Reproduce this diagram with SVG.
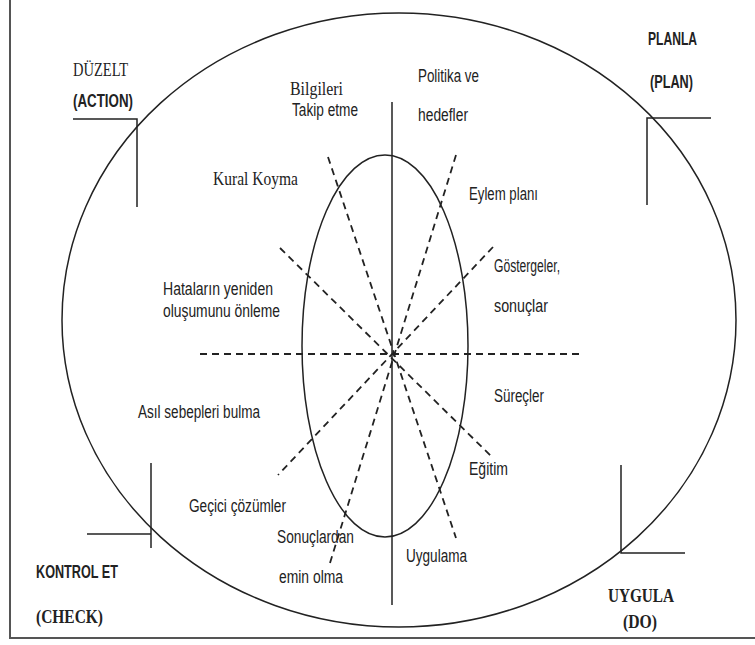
<svg xmlns="http://www.w3.org/2000/svg" width="755" height="645" viewBox="0 0 755 645">
  <style>
    .frame { stroke: #555; stroke-width: 2; fill: none; }
    .solid { stroke: #222; stroke-width: 1.5; fill: none; }
    .dash { stroke: #222; stroke-width: 1.8; stroke-dasharray: 7 5; fill: none; }
    .sans { font-family: "Liberation Sans", Arial, sans-serif; font-size: 17.5px; fill: #222; }
    .sansb { font-family: "Liberation Sans", Arial, sans-serif; font-size: 17.5px; font-weight: bold; fill: #222; }
    .serif { font-family: "Liberation Serif", "Times New Roman", serif; font-size: 19px; fill: #222; }
    .serifb { font-family: "Liberation Serif", "Times New Roman", serif; font-size: 19px; font-weight: bold; fill: #222; }
  </style>
  <rect width="755" height="645" fill="#fff"/>

  <!-- page frame (left and bottom edges) -->
  <g id="frame">
    <line class="frame" x1="10" y1="0" x2="10" y2="638"/>
    <line class="frame" x1="9" y1="638" x2="755" y2="638"/>
  </g>

  <!-- outer cycle and inner core -->
  <g id="outer-cycle">
    <ellipse class="solid" cx="399" cy="320" rx="337" ry="307"/>
  </g>
  <g id="inner-core">
    <ellipse class="solid" cx="385" cy="346" rx="83" ry="191"/>
  </g>

  <!-- axis and dashed spokes -->
  <g id="connectors">
    <line class="solid" x1="392" y1="102" x2="392" y2="605"/>
    <line class="dash" x1="200" y1="354" x2="583" y2="354"/>
    <line class="dash" x1="328" y1="157" x2="456" y2="538"/>
    <line class="dash" x1="456" y1="155" x2="330" y2="563"/>
    <line class="dash" x1="493" y1="247" x2="278" y2="475"/>
    <line class="dash" x1="280" y1="248" x2="493" y2="458"/>
  </g>

  <!-- quadrant corner brackets -->
  <g id="action">
    <polyline class="solid" points="73,119 137,119 137,207"/>
    <text class="serif" x="73" y="76" textLength="55" lengthAdjust="spacingAndGlyphs">DÜZELT</text>
    <text class="sansb" x="73" y="107" textLength="60" lengthAdjust="spacingAndGlyphs">(ACTION)</text>
  </g>
  <g id="plan">
    <polyline class="solid" points="711,118 647,118 647,205"/>
    <text class="sansb" x="648" y="45" textLength="49" lengthAdjust="spacingAndGlyphs">PLANLA</text>
    <text class="sansb" x="650" y="88" textLength="43" lengthAdjust="spacingAndGlyphs">(PLAN)</text>
  </g>
  <g id="check">
    <line class="solid" x1="151" y1="463" x2="151" y2="548"/>
    <line class="solid" x1="87" y1="534" x2="151" y2="534"/>
    <text class="sansb" x="36" y="578" textLength="82" lengthAdjust="spacingAndGlyphs">KONTROL ET</text>
    <text class="serifb" x="36" y="623" textLength="67" lengthAdjust="spacingAndGlyphs">(CHECK)</text>
  </g>
  <g id="do">
    <polyline class="solid" points="621,465 621,553 685,553"/>
    <text class="serifb" x="608" y="602" textLength="66" lengthAdjust="spacingAndGlyphs">UYGULA</text>
    <text class="serifb" x="623" y="628" textLength="34" lengthAdjust="spacingAndGlyphs">(DO)</text>
  </g>

  <!-- spoke labels -->
  <g id="bilgileri">
    <text class="serif" x="290" y="95" textLength="53" lengthAdjust="spacingAndGlyphs">Bilgileri</text>
    <text class="sans" x="292" y="116" textLength="66" lengthAdjust="spacingAndGlyphs">Takip etme</text>
  </g>
  <g id="politika">
    <text class="sans" x="418" y="82" textLength="61" lengthAdjust="spacingAndGlyphs">Politika ve</text>
    <text class="sans" x="418" y="121" textLength="50" lengthAdjust="spacingAndGlyphs">hedefler</text>
  </g>
  <g id="kural">
    <text class="serif" x="213" y="185" textLength="85" lengthAdjust="spacingAndGlyphs">Kural Koyma</text>
  </g>
  <g id="eylem">
    <text class="sans" x="469" y="200" textLength="69" lengthAdjust="spacingAndGlyphs">Eylem planı</text>
  </g>
  <g id="gostergeler">
    <text class="sans" x="494" y="272" textLength="66" lengthAdjust="spacingAndGlyphs">Göstergeler,</text>
    <text class="sans" x="494" y="312" textLength="54" lengthAdjust="spacingAndGlyphs">sonuçlar</text>
  </g>
  <g id="hatalar">
    <text class="sans" x="163" y="295" textLength="110" lengthAdjust="spacingAndGlyphs">Hataların yeniden</text>
    <text class="sans" x="163" y="317" textLength="117" lengthAdjust="spacingAndGlyphs">oluşumunu önleme</text>
  </g>
  <g id="asil">
    <text class="sans" x="138" y="418" textLength="122" lengthAdjust="spacingAndGlyphs">Asıl sebepleri bulma</text>
  </g>
  <g id="surecler">
    <text class="sans" x="494" y="402" textLength="50" lengthAdjust="spacingAndGlyphs">Süreçler</text>
  </g>
  <g id="egitim">
    <text class="sans" x="469" y="475" textLength="39" lengthAdjust="spacingAndGlyphs">Eğitim</text>
  </g>
  <g id="uygulama">
    <text class="sans" x="406" y="562" textLength="61" lengthAdjust="spacingAndGlyphs">Uygulama</text>
  </g>
  <g id="gecici">
    <text class="sans" x="189" y="512" textLength="97" lengthAdjust="spacingAndGlyphs">Geçici çözümler</text>
  </g>
  <g id="sonuclardan">
    <text class="sans" x="277" y="543" textLength="77" lengthAdjust="spacingAndGlyphs">Sonuçlardan</text>
    <text class="sans" x="279" y="583" textLength="64" lengthAdjust="spacingAndGlyphs">emin olma</text>
  </g>
</svg>
